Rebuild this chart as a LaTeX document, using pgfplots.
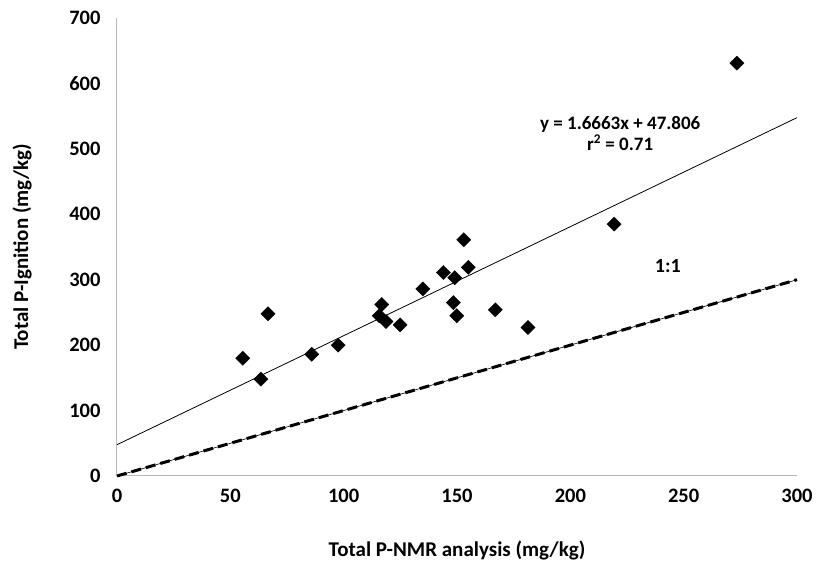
\documentclass[border=0pt]{standalone}
\usepackage{pgfplots}
\pgfplotsset{compat=1.18}
\usepackage{fontspec}
\setmainfont{Carlito}

% Total P: NMR analysis vs. ignition
\pgfplotstableread{
x y
55.5 180
63.5 148
66.6 248
85.9 186
97.6 200
116.8 262
115.7 245
118.7 236
124.9 231
134.9 286
144.0 311
149.0 303
153.0 361
155.0 319
148.4 265
149.9 245
166.9 254
181.3 227
219.3 385
273.5 631
}\samples

\begin{document}
\begin{tikzpicture}
\begin{axis}[
  name=main,
  scale only axis, width=680pt, height=458pt,
  xmin=0, xmax=300, ymin=0, ymax=700,
  xtick={0,50,...,300}, ytick={0,100,...,700},
  axis x line=bottom, axis y line=left,
  axis line style={-, draw=gray!55, line width=1pt},
  major tick length=0pt,
  /pgf/number format/assume math mode=true,
  ticklabel style={font=\fontsize{20.5}{24}\selectfont\bfseries},
  xticklabel style={yshift=-10pt},
  yticklabel style={xshift=-13pt},
  xlabel={Total P-NMR analysis (mg/kg)},
  ylabel={Total P-Ignition (mg/kg)},
  every axis x label/.style={at={(axis description cs:0.5,0)}, anchor=center,
    yshift=-74pt, font=\fontsize{21}{25}\selectfont\bfseries},
  every axis y label/.style={at={(axis description cs:0,0.5)}, anchor=center,
    xshift=-95pt, rotate=90, font=\fontsize{21}{25}\selectfont\bfseries},
  clip=false,
]
% 1:1 reference line
\addplot[black, line width=0.6pt] coordinates {(0,0) (300,300)};
\addplot[black, line width=3pt, dash pattern=on 10pt off 5pt] coordinates {(0,0) (300,300)};
% least-squares fit y = 1.6663x + 47.806
\addplot[black, line width=0.8pt] coordinates {(0,47.806) (300,547.696)};
% samples
\addplot[only marks, mark=square*, mark size=5pt, mark options={rotate=45, fill=black, draw=black}]
  table[x=x, y=y] {\samples};
\node[font=\fontsize{19}{22}\selectfont\bfseries, align=center] at (axis cs:222,524)
  {y = 1.6663x + 47.806\\[-1pt] r\textsuperscript{2} = 0.71};
\node[font=\fontsize{20}{24}\selectfont\bfseries] at (axis cs:243,321) {1:1};
\end{axis}
\pgfresetboundingbox
\path (main.south west) ++(-117pt,-91pt) coordinate (bl);
\path (main.north east) ++(22pt,18pt) coordinate (tr);
\path (bl) rectangle (tr);
\end{tikzpicture}
\end{document}
